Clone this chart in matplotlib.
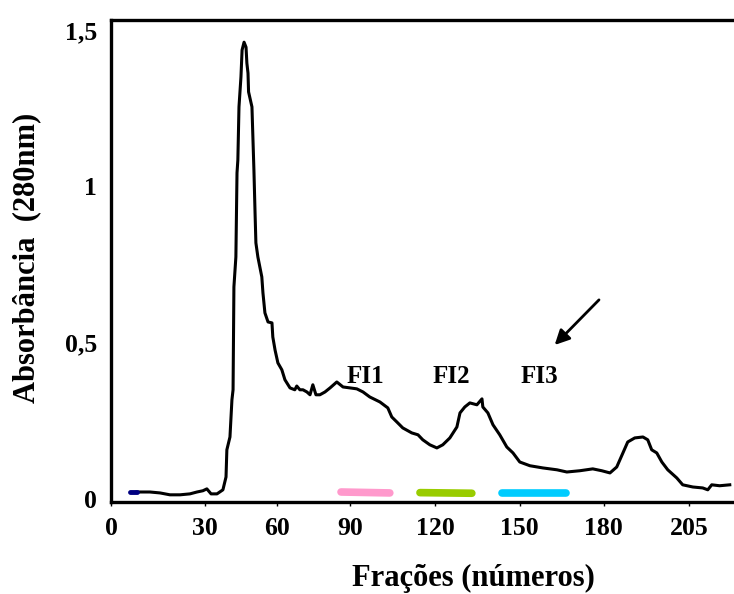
import matplotlib
matplotlib.use("Agg")
import matplotlib.pyplot as plt

# Elution profile (x in plot units, y = absorbance at 280 nm)
frac_x = [9.2, 13.8, 17.4, 20.9, 24.5, 28.0, 30.5, 32.6, 34.0, 35.5, 37.6, 39.7,
          40.8, 41.1, 42.2, 42.9, 43.3, 43.6, 44.3, 44.7, 45.0, 45.4, 46.1, 46.5,
          47.2, 47.9, 48.2, 48.6, 48.8, 50.0, 50.4, 50.7, 51.1, 51.4, 52.1, 53.5,
          53.9, 54.6, 55.7, 57.1, 57.4, 58.2, 59.2, 60.6, 61.7, 63.5, 65.2, 65.9,
          67.0, 68.1, 69.5, 70.6, 71.6, 72.7, 74.1, 75.9, 77.7, 80.1, 82.3, 84.8,
          87.2, 89.4, 91.8, 95.4, 98.2, 99.6, 101.4, 103.5, 106.7, 108.9, 110.6,
          113.1, 115.6, 117.7, 120.2, 122.7, 123.8, 125.5, 127.3, 129.8, 131.6,
          131.9, 133.7, 135.5, 137.9, 140.4, 142.6, 145.0, 148.6, 153.2, 158.2,
          161.7, 166.3, 170.9, 174.1, 177.0, 179.4, 181.6, 183.3, 185.8, 188.7,
          190.4, 191.8, 193.6, 195.4, 197.5, 200.7, 202.8, 206.4, 209.9, 211.7,
          213.1, 215.9, 219.5]
absorb = [0.022, 0.022, 0.019, 0.013, 0.013, 0.016, 0.022, 0.026, 0.032, 0.016, 0.016, 0.029,
          0.070, 0.157, 0.198, 0.317, 0.349, 0.678, 0.774, 1.043, 1.084, 1.254, 1.350, 1.436,
          1.461, 1.445, 1.394, 1.362, 1.302, 1.254, 1.138, 1.052, 0.915, 0.819, 0.774, 0.710,
          0.659, 0.595, 0.566, 0.563, 0.518, 0.476, 0.435, 0.413, 0.381, 0.355, 0.349, 0.361,
          0.349, 0.349, 0.342, 0.333, 0.365, 0.333, 0.333, 0.342, 0.355, 0.374, 0.358, 0.355,
          0.352, 0.342, 0.326, 0.310, 0.291, 0.262, 0.246, 0.227, 0.211, 0.205, 0.189,
          0.173, 0.163, 0.173, 0.195, 0.230, 0.275, 0.294, 0.307, 0.301, 0.320,
          0.294, 0.275, 0.237, 0.205, 0.166, 0.147, 0.118, 0.106, 0.099, 0.093,
          0.086, 0.090, 0.096, 0.090, 0.083, 0.102, 0.147, 0.182, 0.195, 0.198,
          0.189, 0.157, 0.147, 0.118, 0.093, 0.067, 0.045, 0.038, 0.035, 0.029,
          0.045, 0.042, 0.045]

# start marker (dark blue)
start_x = [6.7, 9.2]
start_y = [0.022, 0.022]

# pooled fractions
pool_names = ["FI1", "FI2", "FI3"]
pool_x0 = [81.6, 109.6, 138.7]
pool_x1 = [98.9, 128.0, 161.3]
pool_y0 = [0.022, 0.020, 0.019]
pool_y1 = [0.019, 0.018, 0.019]
pool_colors = ["#FF99CC", "#99CC00", "#00CCFF"]
label_x = [90.1, 120.9, 151.8]
label_y = [0.39, 0.39, 0.39]

# axis ticks
xtick_pos = [0, 33.3, 58.9, 84.8, 114.9, 145.0, 174.8, 205.0]
xtick_labels = ["0", "30", "60", "90", "120", "150", "180", "205"]
ytick_pos = [0, 0.5, 1.0, 1.5]
ytick_labels = ["0", "0,5", "1", "1,5"]

# arrow
arrow_tail = (173.8, 0.643)
arrow_head = (156.7, 0.486)

serif = ["Liberation Serif", "DejaVu Serif"]
plt.rcParams["font.family"] = serif
plt.rcParams["font.weight"] = "bold"

fig = plt.figure(figsize=(7.34, 5.94), dpi=100)
ax = fig.add_axes([111/734, 92/594, 623/734, 482/594])

ax.plot(frac_x, absorb, color="black", lw=2.2, solid_joinstyle="round")
ax.plot(start_x, start_y, color="#000080", lw=3.5, solid_capstyle="round")

for x0, x1, ya, yb, c in zip(pool_x0, pool_x1, pool_y0, pool_y1, pool_colors):
    ax.plot([x0, x1], [ya, yb], color=c, lw=5.5, solid_capstyle="round")
for name, lx, ly in zip(pool_names, label_x, label_y):
    ax.text(lx, ly, name, ha="center", va="center", fontsize=18, fontweight="bold")

ax.annotate("", xy=arrow_head, xytext=arrow_tail,
            arrowprops=dict(arrowstyle="-|>", color="black", lw=2, mutation_scale=22))

ax.set_xlim(0, 221)
ax.set_ylim(-0.01, 1.532)
ax.set_xticks(xtick_pos)
ax.set_xticklabels(xtick_labels, fontsize=18.5, fontweight="bold")
ax.set_yticks(ytick_pos)
ax.set_yticklabels(ytick_labels, fontsize=18.5, fontweight="bold")
ax.tick_params(axis="x", length=3, width=1, pad=8, direction="out")
ax.tick_params(axis="y", length=0, pad=10)

for s in ["left", "bottom", "top"]:
    ax.spines[s].set_linewidth(2.4)
ax.spines["right"].set_visible(False)

fig.text(473/734, 1 - 578/594, "Frações (números)", ha="center", va="center",
         fontsize=22, fontweight="bold")
fig.text(27/734, 1 - 258/594, "Absorbância  (280nm)", ha="center", va="center",
         rotation=90, fontsize=22, fontweight="bold")

fig.savefig("out.png", dpi=100)
